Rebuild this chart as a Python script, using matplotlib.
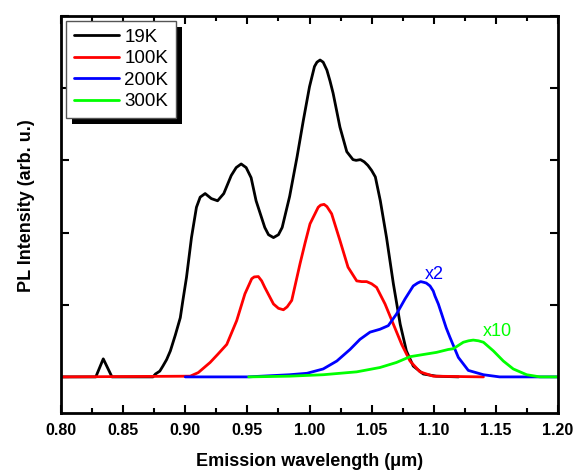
import matplotlib
matplotlib.use('Agg')
import matplotlib.pyplot as plt
from matplotlib.patches import Rectangle
from matplotlib.ticker import MultipleLocator

plt.rcParams['font.family'] = ['Liberation Sans', 'DejaVu Sans']

# PL spectra (wavelength in um, intensity in arb. u.)
black_x = [0.800, 0.828, 0.834, 0.841, 0.874, 0.876, 0.8795, 0.882, 0.885, 0.888, 0.892,
           0.896, 0.898, 0.901, 0.905, 0.909, 0.912, 0.916, 0.921, 0.926, 0.931, 0.937,
           0.941, 0.945, 0.949, 0.953, 0.957, 0.964, 0.967, 0.971, 0.975, 0.978, 0.984,
           0.990, 0.995, 1.000, 1.004, 1.006, 1.0085, 1.011, 1.014, 1.0165, 1.019, 1.0245,
           1.030, 1.035, 1.0375, 1.041, 1.044, 1.047, 1.050, 1.053, 1.057, 1.062, 1.0675,
           1.073, 1.078, 1.0835, 1.0916, 1.102, 1.120]
black_y = [0, 0, 0.25, 0, 0, 0.04, 0.08, 0.15, 0.24, 0.36, 0.58,
           0.82, 1.05, 1.38, 1.93, 2.35, 2.49, 2.54, 2.47, 2.44, 2.54, 2.79,
           2.90, 2.95, 2.90, 2.76, 2.44, 2.07, 1.97, 1.93, 1.97, 2.07, 2.5,
           3.05, 3.55, 4.02, 4.30, 4.36, 4.39, 4.36, 4.25, 4.10, 3.93, 3.46,
           3.12, 3.01, 3.00, 3.01, 2.98, 2.93, 2.86, 2.77, 2.44, 1.93, 1.29,
           0.73, 0.36, 0.15, 0.04, 0.01, 0]

red_x = [0.800, 0.904, 0.9105, 0.920, 0.926, 0.9334, 0.9414, 0.948, 0.9535, 0.9555,
         0.9588, 0.9615, 0.964, 0.971, 0.975, 0.979, 0.982, 0.9857, 0.9924, 0.9965,
         1.0004, 1.007, 1.009, 1.0117, 1.014, 1.0178, 1.0245, 1.031, 1.038, 1.042,
         1.046, 1.050, 1.054, 1.0608, 1.0675, 1.0742, 1.0809, 1.0889, 1.0996, 1.140]
red_y = [0, 0.01, 0.06, 0.2, 0.31, 0.45, 0.78, 1.15, 1.36, 1.385,
         1.39, 1.33, 1.24, 1.01, 0.95, 0.93, 0.97, 1.06, 1.57, 1.86,
         2.12, 2.35, 2.38, 2.39, 2.36, 2.26, 1.89, 1.52, 1.33, 1.32,
         1.32, 1.29, 1.24, 1.01, 0.73, 0.45, 0.22, 0.07, 0.01, 0]

blue_x = [0.900, 0.950, 0.984, 0.998, 1.011, 1.022, 1.0326, 1.0406, 1.0487, 1.0567,
          1.0634, 1.070, 1.0769, 1.0835, 1.087, 1.0895, 1.092, 1.094, 1.097, 1.0996,
          1.101, 1.1037, 1.1064, 1.110, 1.113, 1.1198, 1.1278, 1.140, 1.153, 1.200]
blue_y = [0, 0, 0.03, 0.05, 0.11, 0.22, 0.38, 0.52, 0.62, 0.66,
          0.71, 0.87, 1.08, 1.26, 1.30, 1.32, 1.31, 1.30, 1.26, 1.19,
          1.12, 1.01, 0.87, 0.68, 0.55, 0.27, 0.09, 0.03, 0, 0]

green_x = [0.951, 0.984, 1.011, 1.038, 1.0567, 1.070, 1.0809, 1.0916, 1.1023, 1.1117,
           1.1157, 1.1238, 1.128, 1.1318, 1.136, 1.140, 1.148, 1.156, 1.164, 1.1748,
           1.1855, 1.200]
green_y = [0, 0.01, 0.03, 0.07, 0.13, 0.2, 0.28, 0.31, 0.34, 0.38,
           0.39, 0.48, 0.50, 0.51, 0.50, 0.48, 0.36, 0.22, 0.11, 0.03,
           0, 0]

labels = ['19K', '100K', '200K', '300K']
colors = ['black', 'red', 'blue', '#00ff00']

fig = plt.figure(figsize=(5.73, 4.70), dpi=100)
ax = fig.add_axes([0.1065, 0.1213, 0.8673, 0.8447])

series = [(black_x, black_y), (red_x, red_y), (blue_x, blue_y), (green_x, green_y)]
for (x, y), lab, c in zip(series, labels, colors):
    ax.plot(x, y, color=c, lw=2, label=lab, solid_joinstyle='round', solid_capstyle='round')

ax.text(1.093, 1.36, 'x2', color='blue', fontsize=13)
ax.text(1.1396, 0.56, 'x10', color='#00ff00', fontsize=13)

ax.set_xlim(0.80, 1.20)
ax.set_ylim(-0.5, 5.0)
ax.xaxis.set_major_locator(MultipleLocator(0.05))
ax.xaxis.set_minor_locator(MultipleLocator(0.025))
ax.yaxis.set_major_locator(MultipleLocator(1))
ax.set_xticks(ax.get_xticks())
ax.set_xticklabels(['%.2f' % v for v in ax.get_xticks()], fontweight='bold', fontsize=11.5)
ax.set_xlim(0.80, 1.20)
ax.set_yticklabels([])
ax.tick_params(which='both', direction='in', top=True, right=True, width=1.5)
ax.tick_params(which='major', length=6)
ax.tick_params(which='minor', length=3.5)
ax.tick_params(axis='x', pad=7)
for s in ax.spines.values():
    s.set_linewidth(2)

ax.set_xlabel('Emission wavelength (\u03bcm)', fontsize=13, fontweight='bold', labelpad=11)
ax.set_ylabel('PL Intensity (arb. u.)', fontsize=13, fontweight='bold', labelpad=15)
ax.yaxis.label.set_y(0.523)

leg = ax.legend(loc='upper left', fontsize=13.5, frameon=True, fancybox=False,
                borderaxespad=0.25, borderpad=0.43, labelspacing=0.23,
                handlelength=2.4, handletextpad=0.3)
leg.get_frame().set_edgecolor('#555555')
leg.get_frame().set_linewidth(1)
leg.get_frame().set_alpha(1)

# black drop shadow behind the legend box
fig.canvas.draw()
bb = leg.get_window_extent()
inv = ax.transAxes.inverted()
(x0, y0), (x1, y1) = inv.transform([[bb.x0 + 6, bb.y0 - 6], [bb.x1 + 6, bb.y1 - 6]])
ax.add_patch(Rectangle((x0, y0), x1 - x0, y1 - y0, transform=ax.transAxes,
                       facecolor='black', edgecolor='none', zorder=4.9, clip_on=False))

fig.savefig('out.png', dpi=100)
